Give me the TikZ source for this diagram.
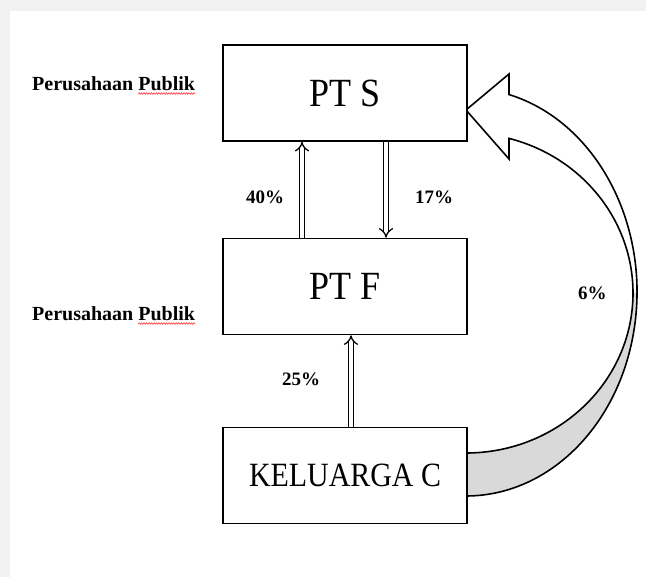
\documentclass[tikz,border=0pt]{standalone}
\usepackage{fontspec}
\setmainfont{Liberation Serif}
\usetikzlibrary{arrows.meta,decorations.pathmorphing,calc}
\begin{document}
\begin{tikzpicture}[x=1pt,y=-1pt,
  box/.style={draw, line width=1.6pt, minimum width=244pt, minimum height=96pt, inner sep=0pt, fill=white},
  pct/.style={font=\bfseries\fontsize{19}{19}\selectfont, inner sep=0pt, anchor=base west},
  side/.style={font=\bfseries\fontsize{20}{20}\selectfont, inner sep=0pt, anchor=base west},
  dbl/.style={double, double distance=3.6pt, line width=1.3pt, -{Implies}},
  wavy/.style={red, line width=0.5pt, decorate, decoration={snake, amplitude=0.7pt, segment length=2.5pt}},
  shaft/.style={line width=1.6pt, line join=miter}
]
\useasboundingbox (0,0) rectangle (646,577);
\fill[black!5] (0,0) rectangle (646,577);
\fill[white] (10,11) rectangle (646,577);

% curved block arrow
\fill[white] (466,110) -- (509,74) -- (509,94.55)
  arc[start angle=-75.44, end angle=90, x radius=171, y radius=204]
  -- (466,453)
  arc[start angle=90, end angle=-75.08, x radius=167, y radius=160]
  -- (509,159) -- cycle;
\fill[black!15] (637,292) arc[start angle=0, end angle=90, x radius=171, y radius=204]
  -- (466,453) arc[start angle=90, end angle=0, x radius=167, y radius=160] -- cycle;
\draw[shaft] (466,110) -- (509,74) -- (509,94.55)
  arc[start angle=-75.44, end angle=90, x radius=171, y radius=204]
  -- (466,453)
  arc[start angle=90, end angle=-75.08, x radius=167, y radius=160]
  -- (509,159) -- cycle;

% boxes
\node[box] (pts) at (345,93) {\scalebox{0.9}[1]{\fontsize{40}{40}\selectfont PT S}};
\node[box] (ptf) at (345,286.5) {\scalebox{0.9}[1]{\fontsize{40}{40}\selectfont PT F}};
\node[box] (kc) at (345,475.5) {\scalebox{0.88}[1]{\fontsize{34}{34}\selectfont KELUARGA C}};

% double arrows
\coordinate (c40) at (302,0);
\coordinate (c17) at (386,0);
\coordinate (c25) at (351,0);
\draw[dbl] (ptf.north -| c40) -- (pts.south -| c40);
\draw[dbl] (pts.south -| c17) -- (ptf.north -| c17);
\draw[dbl] (kc.north -| c25) -- (ptf.south -| c25);

% labels
\node[pct] (l40) at (246,204) {40\%};
\node[pct] (l17) at (415,204) {17\%};
\node[pct] (l25) at (282,386) {25\%};
\node[pct] (l6) at (578,300) {6\%};

\node[side] (pp1) at (32,91) {Perusahaan Publik};
\node[side] (pp2) at (32,321) {Perusahaan Publik};
\draw[wavy] ($(pp1.base east)+(-57,2.5)$) -- ($(pp1.base east)+(0,2.5)$);
\draw[wavy] ($(pp2.base east)+(-57,2.5)$) -- ($(pp2.base east)+(0,2.5)$);
\end{tikzpicture}
\end{document}
